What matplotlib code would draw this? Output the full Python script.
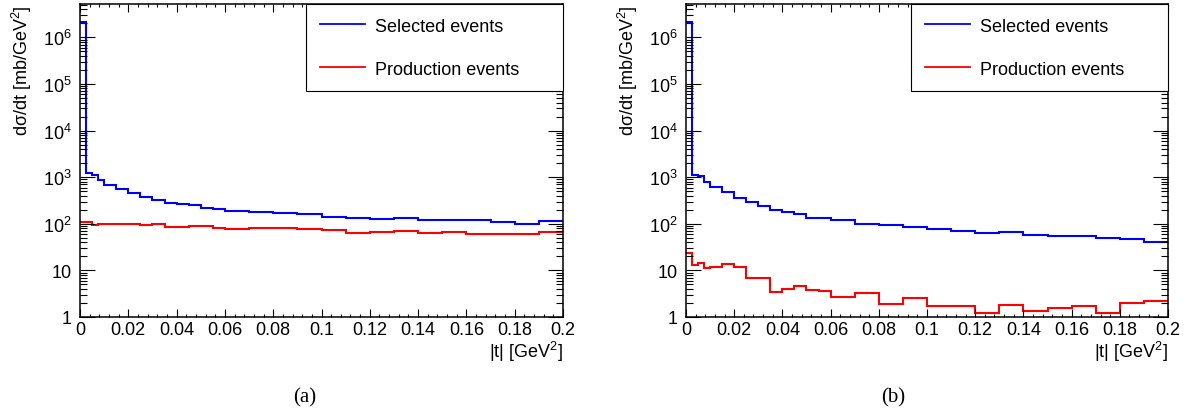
import math
import matplotlib
matplotlib.use("Agg")
import matplotlib.pyplot as plt
from matplotlib.ticker import FixedLocator, MultipleLocator, LogLocator, NullFormatter, FuncFormatter

plt.rcParams['font.family'] = ['Liberation Sans', 'DejaVu Sans']
plt.rcParams['mathtext.fontset'] = 'custom'
plt.rcParams['mathtext.rm'] = 'Liberation Sans'
plt.rcParams['mathtext.it'] = 'Liberation Sans:italic'
plt.rcParams['mathtext.bf'] = 'Liberation Sans:bold'

# |t| bin edges [GeV^2]
t_edges = [0.0, 0.0025, 0.005, 0.0075, 0.01, 0.015, 0.02, 0.025, 0.03, 0.035,
           0.04, 0.045, 0.05, 0.055, 0.06, 0.07, 0.08, 0.09, 0.10, 0.11,
           0.12, 0.13, 0.14, 0.15, 0.16, 0.17, 0.18, 0.19, 0.20]

# dsigma/dt [mb/GeV^2], panel (a)
selected_a = [2.1e6, 1240, 1120, 870, 690, 553, 454, 382, 327, 278,
              264, 249, 219, 209, 188, 181, 174, 162, 141, 134,
              126, 132, 120, 122, 118, 107, 100, 114]
production_a = [107, 110, 92, 98, 100, 100, 97, 93, 97, 86,
                85, 90, 89, 80, 78, 81, 81, 77, 72, 64,
                66, 69, 65, 66, 61, 60, 60, 67]

# dsigma/dt [mb/GeV^2], panel (b)
selected_b = [2.1e6, 1130, 1040, 800, 605, 485, 363, 291, 241, 198,
              182, 163, 134, 136, 119, 97, 94, 84, 77, 70,
              63, 66, 57, 55, 54, 50, 48, 41]
production_b = [23.5, 13.0, 14.4, 11.0, 11.6, 13.7, 11.6, 6.85, 6.85, 3.38,
                4.0, 4.7, 3.8, 3.55, 2.73, 3.2, 1.93, 2.55, 1.69, 1.69,
                1.24, 1.81, 1.32, 1.56, 1.69, 1.24, 1.96, 2.17]

series_labels = ["Selected events", "Production events"]
x_ticks = [0, 0.02, 0.04, 0.06, 0.08, 0.1, 0.12, 0.14, 0.16, 0.18, 0.2]
panel_tags = ["(a)", "(b)"]

W, H = 1190, 414
fig = plt.figure(figsize=(W / 100, H / 100), dpi=100)


def ylog_fmt(v, pos):
    if v < 0.5:
        return ""
    e = int(round(math.log10(v)))
    if e == 0:
        return "1"
    if e == 1:
        return "10"
    return r"$\mathregular{10^{%d}}$" % e


def draw_panel(left_px, width_px, sel, prod, tag, ylabel_px, legend_px, tag_px):
    ax = fig.add_axes([left_px / W, (H - 318) / H, width_px / W, 313 / H])
    ax.stairs(sel, t_edges, baseline=None, color="#0000ff", lw=1.5,
              label=series_labels[0])
    ax.stairs(prod, t_edges, baseline=None, color="#ff0000", lw=1.5,
              label=series_labels[1])
    ax.set_xlim(0, 0.2)
    ax.set_yscale("log")
    ax.set_ylim(1, 5.2e6)

    ax.xaxis.set_major_locator(FixedLocator(x_ticks))
    ax.xaxis.set_major_formatter(FuncFormatter(lambda v, p: "%g" % round(v, 3)))
    ax.xaxis.set_minor_locator(MultipleLocator(0.004))
    ax.yaxis.set_major_locator(LogLocator(base=10, numticks=20))
    ax.yaxis.set_minor_locator(LogLocator(base=10, subs=range(2, 10), numticks=40))
    ax.yaxis.set_major_formatter(FuncFormatter(ylog_fmt))
    ax.yaxis.set_minor_formatter(NullFormatter())

    ax.tick_params(which="both", direction="in", top=True, right=True,
                   width=0.8, labelsize=13, colors="black")
    ax.tick_params(axis="x", which="major", length=5.8, pad=3)
    ax.tick_params(axis="x", which="minor", length=2.5)
    ax.tick_params(axis="y", which="major", length=10.8, pad=6)
    ax.tick_params(axis="y", which="minor", length=5)
    for s in ax.spines.values():
        s.set_linewidth(1.1)

    ax.text((ylabel_px - left_px) / width_px, 1.0, "d\u03c3/dt [mb/GeV$^{2}$]",
            transform=ax.transAxes, rotation=90, ha="center", va="top",
            fontsize=13)
    ax.text(1.0, -(352 - 318) / 313, "|t| [GeV$^{2}$]", transform=ax.transAxes,
            ha="right", va="center", fontsize=13)

    x0 = (legend_px - left_px) / width_px
    leg = ax.legend(loc="upper left", bbox_to_anchor=(x0, 0.0, 1 - x0, 1.0),
                    mode="expand", borderaxespad=0, fancybox=False,
                    edgecolor="black", framealpha=1, fontsize=13,
                    handlelength=2.5, handletextpad=0.55, labelspacing=1.45,
                    borderpad=0.75)
    leg.get_frame().set_linewidth(0.8)
    for line in leg.get_lines():
        line.set_linewidth(1.3)

    fig.text(tag_px / W, 1 - 398 / H, tag, ha="center", va="center",
             fontsize=15, family="Liberation Serif")
    return ax


draw_panel(80, 483, selected_a, production_a, panel_tags[0], 22, 306, 305)
draw_panel(686, 482, selected_b, production_b, panel_tags[1], 628, 911, 893)

fig.savefig("out.png", dpi=100)
